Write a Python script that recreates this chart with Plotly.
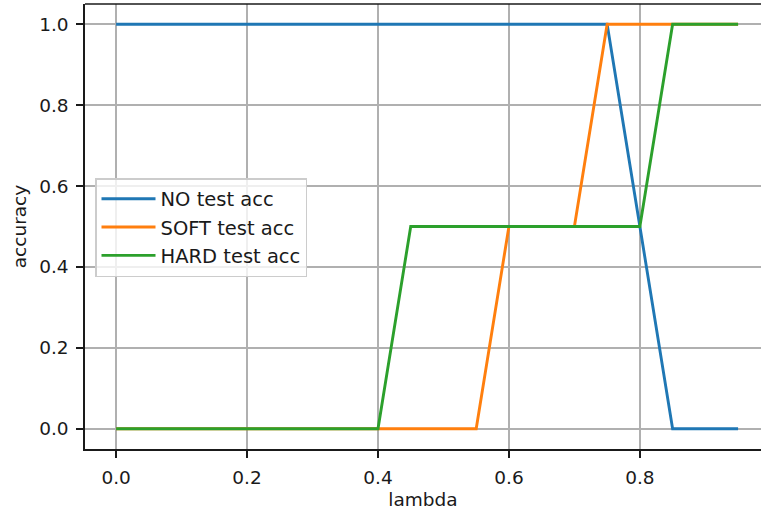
import plotly.graph_objects as go

lam = [0.0, 0.05, 0.1, 0.15, 0.2, 0.25, 0.3, 0.35, 0.4, 0.45,
       0.5, 0.55, 0.6, 0.65, 0.7, 0.75, 0.8, 0.85, 0.9, 0.95]
no_acc = [1, 1, 1, 1, 1, 1, 1, 1, 1, 1, 1, 1, 1, 1, 1, 1, 0.5, 0, 0, 0]
soft_acc = [0, 0, 0, 0, 0, 0, 0, 0, 0, 0, 0, 0, 0.5, 0.5, 0.5, 1, 1, 1, 1, 1]
hard_acc = [0, 0, 0, 0, 0, 0, 0, 0, 0, 0.5, 0.5, 0.5, 0.5, 0.5, 0.5, 0.5, 0.5, 1, 1, 1]
names = ["NO test acc", "SOFT test acc", "HARD test acc"]
colors = ["#1f77b4", "#ff7f0e", "#2ca02c"]
xticks = [0.0, 0.2, 0.4, 0.6, 0.8]
yticks = [0.0, 0.2, 0.4, 0.6, 0.8, 1.0]

W, H = 761, 514
L, R, T, B = 85, 0, 4, 65

fig = go.Figure()
for ys, n, c in zip([no_acc, soft_acc, hard_acc], names, colors):
    fig.add_trace(go.Scatter(x=lam, y=ys, mode="lines", name=n,
                             line=dict(color=c, width=2.9)))

txt = "#1a1a1a"
font = dict(family="DejaVu Sans", size=18.5, color=txt)
lfont = dict(family="DejaVu Sans", size=19.5, color=txt)
axcommon = dict(showgrid=True, gridcolor="#b0b0b0", gridwidth=1.5,
                ticks="outside", ticklen=7, tickwidth=1.5, tickcolor=txt,
                showline=True, linecolor=txt, linewidth=1.5,
                zeroline=False, tickfont=font, ticklabelstandoff=4)

fig.update_layout(
    width=W, height=H,
    margin=dict(l=L, r=R, t=T, b=B, pad=0),
    paper_bgcolor="white", plot_bgcolor="white",
    font=font,
    xaxis=dict(range=[-0.0475, 0.985], tickvals=xticks,
               ticktext=[f"{v:.1f}" for v in xticks],
               title=dict(text="lambda", font=font, standoff=6),
               **axcommon),
    yaxis=dict(range=[-0.05, 1.05], tickvals=yticks,
               ticktext=[f"{v:.1f}" for v in yticks],
               title=dict(text="accuracy", font=font, standoff=8),
               **axcommon),
    legend=dict(x=(95 - L) / (W - L - R), y=1 - (178 - T) / (H - T - B),
                xanchor="left", yanchor="top", itemwidth=54,
                bgcolor="rgba(255,255,255,0.8)", bordercolor="#cccccc",
                borderwidth=1.5, font=lfont, tracegroupgap=0),
    showlegend=True,
)
# top border of axes frame
fig.add_shape(type="line", xref="paper", yref="paper", x0=0, x1=1, y0=1, y1=1,
              line=dict(color=txt, width=1.5))

fig.write_html("out.html")
